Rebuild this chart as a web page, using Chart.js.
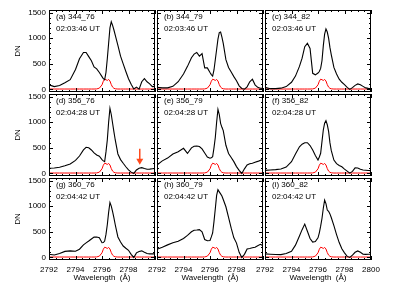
<!DOCTYPE html>
<html>
<head>
<meta charset="utf-8">
<script src="https://cdn.jsdelivr.net/npm/chart.js@4.4.0/dist/chart.umd.min.js"></script>
<style>
  html, body { margin: 0; padding: 0; background: #fff; }
  #wrap { position: relative; width: 399px; height: 299px; }
  #wrap canvas { position: absolute; left: 0; top: 0; }
</style>
</head>
<body>
<div id="wrap"></div>
<script>
// wavelength grid (Angstrom), shared by all panels
const wavelength = [2792.0, 2792.4, 2792.8, 2793.2, 2793.6, 2794.0, 2794.3, 2794.6, 2794.8, 2795.0,
                    2795.2, 2795.4, 2795.6, 2795.8, 2796.0, 2796.1, 2796.2, 2796.3, 2796.4, 2796.5,
                    2796.6, 2796.7, 2796.8, 2796.9, 2797.0, 2797.2, 2797.4, 2797.6, 2797.8, 2798.0,
                    2798.2, 2798.4, 2798.6, 2798.8, 2799.0, 2799.2, 2799.4, 2799.6, 2799.8, 2800.0];
const xTicks = [2792, 2794, 2796, 2798, 2800];
const yTicks = [0, 500, 1000, 1500];

const panelNames = ['(a) 344_76', '(b) 344_79', '(c) 344_82',
                    '(d) 356_76', '(e) 356_79', '(f) 356_82',
                    '(g) 360_76', '(h) 360_79', '(i) 360_82'];
const panelTimes = ['02:03:46 UT', '02:03:46 UT', '02:03:46 UT',
                    '02:04:28 UT', '02:04:28 UT', '02:04:28 UT',
                    '02:04:42 UT', '02:04:42 UT', '02:04:42 UT'];

// observed spectra (DN)
const dn_a = [90, 55, 75, 130, 190, 390, 600, 720, 720, 640, 560, 440, 400, 330, 250, 210, 190, 330, 600, 900,
              1200, 1320, 1250, 1160, 1060, 860, 650, 500, 350, 210, 100, 10, 45, 5, 150, 210, 150, 110, 55, 60];
const dn_b = [40, 30, 30, 60, 150, 300, 450, 620, 690, 720, 650, 700, 420, 420, 330, 290, 260, 380, 580, 780,
              980, 1110, 1120, 1020, 900, 580, 430, 340, 250, 170, 70, 20, 5, 50, 150, 200, 90, 40, 22, 20];
const dn_c = [40, 15, 15, 25, 55, 140, 260, 450, 610, 835, 900, 800, 315, 285, 320, 350, 410, 560, 850, 1080,
              1180, 1120, 1000, 820, 680, 430, 300, 200, 140, 95, 40, 0, 35, 80, 108, 90, 60, 30, 20, 15];
const dn_d = [100, 105, 120, 150, 185, 255, 340, 460, 510, 500, 458, 400, 360, 335, 270, 245, 230, 420, 653, 1000,
              1270, 1150, 980, 810, 653, 380, 270, 198, 130, 68, 25, 0, 68, 100, 113, 95, 82, 85, 90, 95];
const dn_e = [165, 245, 300, 380, 425, 490, 390, 500, 530, 536, 525, 480, 400, 320, 296, 305, 328, 500, 700, 1000,
              1250, 1150, 978, 900, 835, 550, 390, 310, 230, 133, 60, 0, 90, 165, 190, 200, 220, 235, 255, 270];
const dn_f = [60, 68, 75, 85, 125, 230, 380, 520, 570, 600, 600, 545, 458, 350, 263, 320, 393, 620, 848, 980,
              1030, 950, 820, 600, 450, 260, 190, 155, 130, 85, 45, 5, 40, 110, 105, 80, 68, 62, 56, 55];
const dn_g = [63, 48, 75, 118, 128, 120, 160, 245, 285, 320, 360, 396, 400, 383, 287, 290, 319, 450, 638, 880,
              1072, 1000, 893, 770, 638, 400, 300, 223, 180, 140, 60, 0, 89, 115, 128, 100, 76, 70, 70, 70];
const dn_h = [159, 200, 245, 285, 315, 370, 430, 500, 530, 535, 542, 500, 350, 325, 330, 400, 478, 700, 950, 1212,
              1321, 1280, 1240, 1200, 1130, 989, 780, 570, 383, 280, 100, 0, 60, 165, 175, 188, 200, 230, 255, 230];
const dn_i = [70, 63, 58, 55, 75, 120, 240, 420, 542, 650, 510, 370, 300, 310, 383, 480, 610, 760, 960, 1117,
              1050, 925, 900, 850, 780, 620, 446, 290, 170, 90, 20, 0, 45, 100, 127, 100, 63, 60, 62, 63];

// red reference profile (DN)
const refProfile = [8, 8, 8, 8, 8, 8, 8, 8, 8, 8, 8, 8, 10, 25, 90, 160, 200, 190, 175, 195,
                    165, 95, 45, 22, 12, 8, 8, 8, 8, 8, 8, 8, 8, 8, 8, 8, 8, 8, 8, 8];

const spectra = [dn_a, dn_b, dn_c, dn_d, dn_e, dn_f, dn_g, dn_h, dn_i];

// arrow in panel (d): wavelength, start DN, tip DN
const arrowD = { wave: 2798.85, from: 480, to: 170 };

const colLeft = [49, 157, 265];
const rowTop = [10, 94, 178];
const panelW = 106, panelH = 82;
const fontFamily = '"Liberation Sans", Arial, sans-serif';

Chart.defaults.font.family = fontFamily;
Chart.defaults.color = '#000';

const panelFrame = {
    id: 'panelFrame',
    afterDraw(chart, args, opts) {
        const { ctx, chartArea: a } = chart;
        const x = chart.scales.x, y = chart.scales.y;
        ctx.save();
        ctx.strokeStyle = '#000';
        ctx.lineWidth = 1;
        ctx.strokeRect(a.left + 0.5, a.top + 0.5, a.width - 1, a.height - 1);

        ctx.beginPath();
        for (let v = 2792; v <= 2800; v += 0.5) {
            const px = Math.round(x.getPixelForValue(v)) + 0.5;
            const len = xTicks.includes(v) ? 4 : 2;
            ctx.moveTo(px, a.bottom); ctx.lineTo(px, a.bottom - len);
            ctx.moveTo(px, a.top); ctx.lineTo(px, a.top + len);
        }
        for (let v = 0; v <= 1500; v += 100) {
            const py = Math.round(y.getPixelForValue(v)) + 0.5;
            const len = yTicks.includes(v) ? 4 : 2;
            ctx.moveTo(a.left, py); ctx.lineTo(a.left + len, py);
            ctx.moveTo(a.right, py); ctx.lineTo(a.right - len, py);
        }
        ctx.stroke();

        ctx.fillStyle = '#000';
        ctx.font = '8px ' + fontFamily;
        ctx.textAlign = 'left';
        ctx.textBaseline = 'middle';
        ctx.fillText(opts.name, a.left + 7, a.top + 7);
        ctx.fillText(opts.time, a.left + 7, a.top + 19);

        if (opts.arrow) {
            const ax = x.getPixelForValue(opts.arrow.wave);
            const y1 = y.getPixelForValue(opts.arrow.from);
            const y2 = y.getPixelForValue(opts.arrow.to);
            ctx.strokeStyle = '#ff4a1c';
            ctx.fillStyle = '#ff4a1c';
            ctx.lineWidth = 1.5;
            ctx.beginPath();
            ctx.moveTo(ax, y1); ctx.lineTo(ax, y2 - 5);
            ctx.stroke();
            ctx.beginPath();
            ctx.moveTo(ax - 3.5, y2 - 6); ctx.lineTo(ax + 3.5, y2 - 6); ctx.lineTo(ax, y2);
            ctx.closePath();
            ctx.fill();
        }
        ctx.restore();
    }
};

function toPoints(values) {
    return wavelength.map((w, i) => ({ x: w, y: values[i] }));
}

function makePanel(index) {
    const row = Math.floor(index / 3), col = index % 3;
    const L = colLeft[col], T = rowTop[row];
    const canvas = document.createElement('canvas');
    canvas.width = 399;
    canvas.height = 299;
    document.getElementById('wrap').appendChild(canvas);

    const xAxisH = row === 2 ? 23 : 0;
    const yAxisW = col === 0 ? 41 : 0;
    return new Chart(canvas.getContext('2d'), {
        type: 'line',
        data: {
            datasets: [
                {
                    data: toPoints(spectra[index]),
                    borderColor: '#000',
                    borderWidth: 1.1,
                    pointRadius: 0,
                    tension: 0
                },
                {
                    data: toPoints(refProfile),
                    borderColor: '#ff0000',
                    borderWidth: 1,
                    pointRadius: 0,
                    tension: 0
                }
            ]
        },
        options: {
            responsive: false,
            animation: false,
            devicePixelRatio: 1,
            events: [],
            layout: {
                padding: {
                    left: L - yAxisW,
                    top: T,
                    right: 399 - L - panelW,
                    bottom: 299 - T - panelH - xAxisH
                }
            },
            plugins: {
                legend: { display: false },
                tooltip: { enabled: false },
                panelFrame: {
                    name: panelNames[index],
                    time: panelTimes[index],
                    arrow: index === 3 ? arrowD : null
                }
            },
            scales: {
                x: {
                    type: 'linear',
                    min: 2792,
                    max: 2800,
                    display: row === 2,
                    afterBuildTicks: s => { s.ticks = xTicks.map(v => ({ value: v })); },
                    afterFit: s => { s.height = xAxisH; },
                    grid: { display: false, drawTicks: false },
                    border: { display: false },
                    ticks: {
                        font: { size: 8 },
                        padding: 5,
                        maxRotation: 0,
                        autoSkip: false,
                        callback: v => (v === 2800 && col < 2) ? '' : String(v)
                    },
                    title: {
                        display: true,
                        text: 'Wavelength  (Å)',
                        font: { size: 8 },
                        padding: { top: 0, bottom: 0 }
                    }
                },
                y: {
                    type: 'linear',
                    min: -50,
                    max: 1550,
                    display: col === 0,
                    afterBuildTicks: s => { s.ticks = yTicks.map(v => ({ value: v })); },
                    afterFit: s => { s.width = yAxisW; },
                    grid: { display: false, drawTicks: false },
                    border: { display: false },
                    ticks: {
                        font: { size: 8 },
                        padding: 3,
                        callback: v => String(v)
                    },
                    title: {
                        display: true,
                        text: 'DN',
                        font: { size: 8 },
                        padding: { top: 5, bottom: 0 }
                    }
                }
            }
        },
        plugins: [panelFrame]
    });
}

for (let i = 0; i < 9; i++) {
    makePanel(i);
}
</script>
</body>
</html>
